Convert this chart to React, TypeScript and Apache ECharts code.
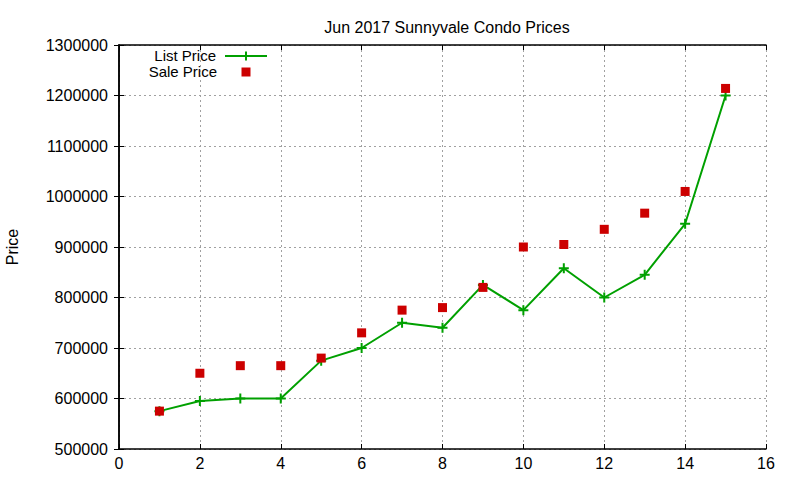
import React, { useEffect, useRef } from "react";
import * as echarts from "echarts";

// 数据
const xValues = [1, 2, 3, 4, 5, 6, 7, 8, 9, 10, 11, 12, 13, 14, 15];
const listPrice = [
  575000, 595000, 600000, 600000, 675000, 700000, 750000, 740000, 825000,
  775000, 858000, 800000, 845000, 946000, 1200000,
];
const salePrice = [
  575000, 650000, 665000, 665000, 680000, 730000, 775000, 780000, 820000,
  900000, 905000, 935000, 967000, 1010000, 1214000,
];

const FONT = "'Liberation Sans', Arial, sans-serif";
const GREEN = "#00a000";
const RED = "#cc0000";
const PLUS = "path://M4,0H6V4H10V6H6V10H4V6H0V4H4Z";

const App: React.FC = () => {
  const chartRef = useRef<HTMLDivElement>(null);

  useEffect(() => {
    document.body.style.margin = "0";
    const chart = echarts.init(chartRef.current, null, { renderer: "svg" });

    const tickStyle = { inside: true, length: 5, lineStyle: { color: "#000", width: 1 } };
    const lineStyle = { show: true, lineStyle: { color: "#000", width: 1.5 } };
    const gridLine = { show: true, lineStyle: { color: "#a0a0a0", type: [2, 3] as any, width: 1 } };
    const legendText = { fontSize: 15, fontFamily: FONT, fill: "#000", align: "right", verticalAlign: "middle", lineHeight: 14 } as const;

    const option: echarts.EChartsOption = {
      animation: false,
      backgroundColor: "#fff",
      textStyle: { fontFamily: FONT },
      title: {
        text: "Jun 2017 Sunnyvale Condo Prices",
        left: 442,
        top: 14,
        textAlign: "center",
        textStyle: { fontFamily: FONT, fontSize: 16, fontWeight: "normal", color: "#000" },
      },
      grid: { left: 119, right: 34, top: 45, bottom: 31 },
      xAxis: [
        {
          type: "value",
          min: 0,
          max: 16,
          interval: 2,
          axisLine: lineStyle,
          axisTick: tickStyle,
          splitLine: gridLine,
          axisLabel: { color: "#000", fontSize: 16, fontFamily: FONT, margin: 6 },
        },
        {
          type: "value",
          position: "top",
          min: 0,
          max: 16,
          interval: 2,
          axisLine: lineStyle,
          axisTick: tickStyle,
          splitLine: { show: false },
          axisLabel: { show: false },
        },
      ],
      yAxis: [
        {
          type: "value",
          min: 500000,
          max: 1300000,
          interval: 100000,
          axisLine: lineStyle,
          axisTick: tickStyle,
          splitLine: gridLine,
          axisLabel: {
            color: "#000",
            fontSize: 16,
            fontFamily: FONT,
            margin: 11,
            formatter: (v: number) => String(v),
          },
        },
        {
          type: "value",
          position: "right",
          min: 500000,
          max: 1300000,
          interval: 100000,
          axisLine: lineStyle,
          axisTick: tickStyle,
          splitLine: { show: false },
          axisLabel: { show: false },
        },
      ],
      graphic: [
        {
          type: "text",
          x: 12,
          y: 247,
          rotation: Math.PI / 2,
          style: {
            text: "Price",
            fontSize: 16,
            fontFamily: FONT,
            fill: "#000",
            align: "center",
            verticalAlign: "middle",
          },
        },
        { type: "text", x: 216, y: 55, style: { ...legendText, text: "List Price" } },
        {
          type: "line",
          shape: { x1: 225, y1: 56, x2: 267, y2: 56 },
          style: { stroke: GREEN, lineWidth: 2 },
        },
        {
          type: "line",
          shape: { x1: 246, y1: 51.5, x2: 246, y2: 60.5 },
          style: { stroke: GREEN, lineWidth: 2 },
        },
        { type: "text", x: 217, y: 71, style: { ...legendText, text: "Sale Price" } },
        {
          type: "rect",
          shape: { x: 241.5, y: 67.5, width: 9, height: 9 },
          style: { fill: RED },
        },
      ],
      series: [
        {
          name: "List Price",
          type: "line",
          data: xValues.map((x, i) => [x, listPrice[i]]),
          symbol: PLUS,
          symbolSize: 10,
          showAllSymbol: true,
          lineStyle: { color: GREEN, width: 2 },
          itemStyle: { color: GREEN, opacity: 1 },
          z: 3,
        },
        {
          name: "Sale Price",
          type: "scatter",
          data: xValues.map((x, i) => [x, salePrice[i]]),
          symbol: "rect",
          symbolSize: 9,
          itemStyle: { color: RED, opacity: 1 },
          z: 4,
        },
      ],
    };

    chart.setOption(option);
    return () => {
      chart.dispose();
    };
  }, []);

  return <div ref={chartRef} style={{ width: 800, height: 480 }} />;
};

export default App;
